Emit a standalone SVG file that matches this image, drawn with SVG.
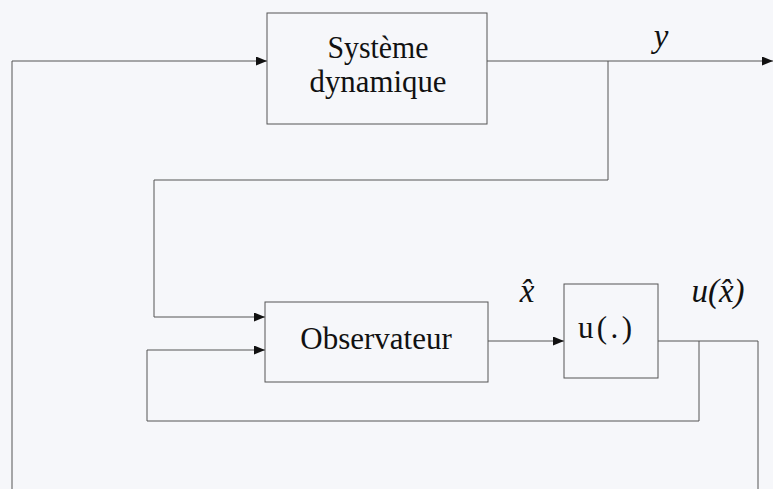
<svg xmlns="http://www.w3.org/2000/svg" width="773" height="489" viewBox="0 0 773 489">
<defs>
<marker id="arr" markerWidth="11" markerHeight="9" refX="11" refY="4.5" orient="auto" markerUnits="userSpaceOnUse">
<path d="M0,0 L11,4.5 L0,9 Z" fill="#111"/>
</marker>
<style>
.box{fill:none;stroke:#555;stroke-width:1}
.ln{fill:none;stroke:#555;stroke-width:1}
.lb{font-family:"Liberation Serif",serif;font-size:31px;fill:#111;text-anchor:middle}
.it{font-family:"Liberation Serif",serif;font-size:33px;font-style:italic;fill:#111;text-anchor:middle}
</style>
</defs>
<rect width="773" height="489" fill="#f6f7fa"/>
<g id="connectors">
<path class="ln" d="M12,489 V61 H267" marker-end="url(#arr)"/>
<path class="ln" d="M487,61 H773" marker-end="url(#arr)"/>
<path class="ln" d="M608,61 V180 H154 V317 H265" marker-end="url(#arr)"/>
<path class="ln" d="M699,341 V421 H147 V350 H265" marker-end="url(#arr)"/>
<path class="ln" d="M488,341 H564" stroke="#222" stroke-width="1.6" marker-end="url(#arr)"/>
<path class="ln" d="M658,341 H758 V489" stroke="#222" stroke-width="1.6"/>
</g>
<g id="systeme">
<rect class="box" x="267" y="13" width="220" height="111"/>
<text class="lb" x="378" y="58" font-size="26" textLength="101" lengthAdjust="spacingAndGlyphs">Système</text>
<text class="lb" x="378" y="92" font-size="26" textLength="137" lengthAdjust="spacingAndGlyphs">dynamique</text>
</g>
<g id="observateur">
<rect class="box" x="265" y="302" width="223" height="80"/>
<text class="lb" x="376" y="349">Observateur</text>
</g>
<g id="u">
<rect class="box" x="564" y="284" width="94" height="94"/>
<text class="lb" x="605" y="338" font-size="28" textLength="54" lengthAdjust="spacing">u(.)</text>
</g>
<g id="labels">
<text class="it" x="661" y="47">y</text>
<text class="it" x="527" y="302">x̂</text>
<text class="it" x="718" y="302">u(x̂)</text>
</g>
</svg>
